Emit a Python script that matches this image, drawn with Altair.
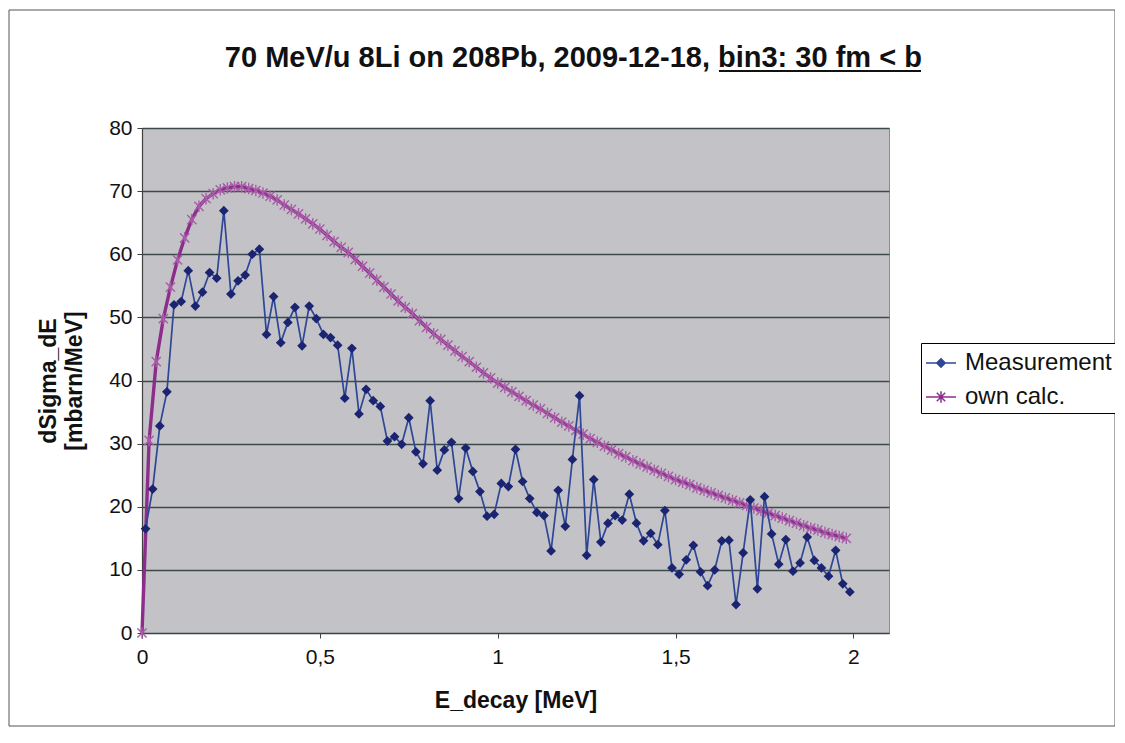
import pandas as pd
import altair as alt

# E_decay bin centres of the measurement (MeV)
meas_E = [0.01, 0.03, 0.05, 0.07, 0.09, 0.11, 0.13, 0.15, 0.17, 0.19,
          0.21, 0.23, 0.25, 0.27, 0.29, 0.31, 0.33, 0.35, 0.37, 0.39,
          0.41, 0.43, 0.45, 0.47, 0.49, 0.51, 0.53, 0.55, 0.57, 0.59,
          0.61, 0.63, 0.65, 0.67, 0.69, 0.71, 0.73, 0.75, 0.77, 0.79,
          0.81, 0.83, 0.85, 0.87, 0.89, 0.91, 0.93, 0.95, 0.97, 0.99,
          1.01, 1.03, 1.05, 1.07, 1.09, 1.11, 1.13, 1.15, 1.17, 1.19,
          1.21, 1.23, 1.25, 1.27, 1.29, 1.31, 1.33, 1.35, 1.37, 1.39,
          1.41, 1.43, 1.45, 1.47, 1.49, 1.51, 1.53, 1.55, 1.57, 1.59,
          1.61, 1.63, 1.65, 1.67, 1.69, 1.71, 1.73, 1.75, 1.77, 1.79,
          1.81, 1.83, 1.85, 1.87, 1.89, 1.91, 1.93, 1.95, 1.97, 1.99]
meas_vals = [16.5, 22.8, 32.8, 38.2, 52.0, 52.5, 57.4, 51.8, 54.0, 57.1,
             56.2, 66.9, 53.7, 55.8, 56.7, 60.0, 60.8, 47.3, 53.3, 46.0,
             49.2, 51.6, 45.5, 51.8, 49.8, 47.3, 46.8, 45.6, 37.2, 45.1,
             34.7, 38.6, 36.8, 35.9, 30.4, 31.1, 29.9, 34.1, 28.7, 26.8,
             36.8, 25.8, 29.0, 30.2, 21.3, 29.3, 25.6, 22.4, 18.5, 18.8,
             23.7, 23.2, 29.1, 24.0, 21.3, 19.1, 18.6, 13.0, 22.6, 16.9,
             27.5, 37.6, 12.3, 24.3, 14.4, 17.4, 18.6, 17.9, 22.0, 17.4,
             14.6, 15.8, 14.0, 19.4, 10.3, 9.3, 11.6, 13.9, 9.7, 7.5,
             10.0, 14.6, 14.7, 4.5, 12.7, 21.1, 7.0, 21.6, 15.7, 10.9,
             14.8, 9.8, 11.1, 15.2, 11.5, 10.3, 9.0, 13.1, 7.8, 6.5]

# own calculation
calc_E = [0.00, 0.02, 0.04, 0.06, 0.08, 0.10, 0.12, 0.14, 0.16, 0.18,
          0.20, 0.22, 0.24, 0.26, 0.28, 0.30, 0.32, 0.34, 0.36, 0.38,
          0.40, 0.42, 0.44, 0.46, 0.48, 0.50, 0.52, 0.54, 0.56, 0.58,
          0.60, 0.62, 0.64, 0.66, 0.68, 0.70, 0.72, 0.74, 0.76, 0.78,
          0.80, 0.82, 0.84, 0.86, 0.88, 0.90, 0.92, 0.94, 0.96, 0.98,
          1.00, 1.02, 1.04, 1.06, 1.08, 1.10, 1.12, 1.14, 1.16, 1.18,
          1.20, 1.22, 1.24, 1.26, 1.28, 1.30, 1.32, 1.34, 1.36, 1.38,
          1.40, 1.42, 1.44, 1.46, 1.48, 1.50, 1.52, 1.54, 1.56, 1.58,
          1.60, 1.62, 1.64, 1.66, 1.68, 1.70, 1.72, 1.74, 1.76, 1.78,
          1.80, 1.82, 1.84, 1.86, 1.88, 1.90, 1.92, 1.94, 1.96, 1.98]
calc_vals = [0.0, 30.5, 43.0, 49.8, 54.8, 59.1, 62.6, 65.5, 67.6, 68.8,
             69.6, 70.2, 70.5, 70.7, 70.7, 70.4, 70.1, 69.7, 69.2, 68.6,
             67.8, 67.1, 66.4, 65.6, 64.8, 64.0, 63.0, 62.0, 61.1, 60.3,
             59.2, 58.1, 57.0, 55.9, 54.8, 53.7, 52.6, 51.6, 50.6, 49.5,
             48.4, 47.4, 46.5, 45.6, 44.7, 43.8, 43.0, 42.1, 41.2, 40.4,
             39.6, 38.9, 38.2, 37.5, 36.8, 36.1, 35.5, 34.8, 34.1, 33.4,
             32.8, 32.1, 31.5, 30.8, 30.2, 29.6, 29.0, 28.4, 27.9, 27.3,
             26.8, 26.3, 25.8, 25.3, 24.8, 24.3, 23.9, 23.5, 23.0, 22.6,
             22.2, 21.8, 21.4, 21.0, 20.6, 20.2, 19.8, 19.4, 19.0, 18.6,
             18.2, 17.8, 17.4, 17.0, 16.6, 16.3, 15.9, 15.6, 15.3, 15.0]

series_names = ["Measurement", "own calc."]
x_ticks = [0, 0.5, 1, 1.5, 2]
y_ticks = [0, 10, 20, 30, 40, 50, 60, 70, 80]
title_main = "70 MeV/u 8Li on 208Pb, 2009-12-18,"
title_under = "bin3: 30 fm < b"

FONT = "Liberation Sans"
NAVY = "#1B2470"
NAVY_LINE = "#2E4696"
PURPLE = "#8E2C8C"
PURPLE_STAR = "#A85CA8"

STAR = "M-1,-1L1,1M-1,1L1,-1M0,-1.25L0,1.25"
# legend symbols: a line segment with the series marker on it
LEG_MEAS = "M-1,0L1,0M0,-0.28L0.28,0L0,0.28L-0.28,0Z M0,-0.14L0.14,0L0,0.14L-0.14,0Z"
LEG_CALC = "M-1,0L1,0M-0.28,-0.28L0.28,0.28M-0.28,0.28L0.28,-0.28M0,-0.38L0,0.38"

meas_df = pd.DataFrame({"E": meas_E, "v": meas_vals, "series": series_names[0]})
calc_df = pd.DataFrame({"E": calc_E, "v": calc_vals, "series": series_names[1]})
leg_df = pd.DataFrame({"series": series_names})

x_enc = alt.X("E:Q", scale=alt.Scale(domain=[0, 2.1], nice=False),
              axis=alt.Axis(values=x_ticks, title="E_decay [MeV]",
                            labelExpr="replace(toString(datum.value), '.', ',')",
                            labelFlush=False, grid=False, labelPadding=8, titlePadding=22))
y_enc = alt.Y("v:Q", scale=alt.Scale(domain=[0, 80], nice=False),
              axis=alt.Axis(values=y_ticks, title=["dSigma_dE", "[mbarn/MeV]"],
                            grid=True, labelPadding=5, titlePadding=22,
                            titleLineHeight=26))

legend = alt.Legend(
    title=None, orient="none", legendX=779, legendY=215,
    strokeColor="#000000", fillColor="#ffffff", padding=4,
    labelFont=FONT, labelFontSize=24, labelColor="#111111", labelLimit=300,
    symbolSize=900, rowPadding=6, labelOffset=8,
)

line_color = alt.Color("series:N",
                       scale=alt.Scale(domain=series_names, range=[NAVY_LINE, PURPLE]),
                       legend=legend)

calc_line = alt.Chart(calc_df).mark_line(strokeWidth=3.4).encode(x=x_enc, y=y_enc, color=line_color)
calc_pts = alt.Chart(calc_df).mark_point(shape=STAR, filled=False, size=85,
                                         strokeWidth=1.4, color=PURPLE_STAR, opacity=1
                                         ).encode(x="E:Q", y="v:Q")
meas_line = alt.Chart(meas_df).mark_line(strokeWidth=1.7).encode(x=x_enc, y=y_enc, color=line_color)
meas_pts = alt.Chart(meas_df).mark_point(shape="diamond", filled=True, size=95,
                                         color=NAVY, opacity=1).encode(x="E:Q", y="v:Q")

# clipped, off-canvas points: they only give the legend its marker shapes
leg_pts = alt.Chart(leg_df).mark_point(filled=False, clip=True, strokeWidth=2.4, opacity=1).encode(
    x=alt.value(-2000), y=alt.value(-2000),
    color=line_color,
    shape=alt.Shape("series:N", scale=alt.Scale(domain=series_names, range=[LEG_MEAS, LEG_CALC]),
                    legend=legend),
)

# title in two parts, the second one underlined
one = pd.DataFrame({"k": [0]})
t1 = alt.Chart(one).mark_text(text=title_main, font=FONT, fontSize=29, fontWeight="bold",
                              align="right", baseline="alphabetic", color="#111111"
                              ).encode(x=alt.value(568), y=alt.value(-61))
t2 = alt.Chart(one).mark_text(text=title_under, font=FONT, fontSize=29, fontWeight="bold",
                              align="left", baseline="alphabetic", color="#111111"
                              ).encode(x=alt.value(576), y=alt.value(-61))
under = alt.Chart(one).mark_rule(strokeWidth=2.2, color="#111111").encode(
    x=alt.value(577), x2=alt.value(779), y=alt.value(-57))
frame = alt.Chart(one).mark_rect(fill=None, stroke="#555555", strokeWidth=1).encode(
    x=alt.value(-133), x2=alt.value(973), y=alt.value(-118), y2=alt.value(598))

chart = alt.layer(frame, calc_line, calc_pts, meas_line, meas_pts, leg_pts, t1, t2, under).properties(
    width=747, height=505, autosize="none",
    padding={"left": 134, "top": 120, "right": 226, "bottom": 100},
    background="#ffffff",
).configure_view(
    fill="#C3C3C7", stroke="#8a8a8a", strokeWidth=1
).configure_axis(
    labelFont=FONT, labelFontSize=21, labelColor="#111111",
    titleFont=FONT, titleFontSize=23, titleFontWeight="bold", titleColor="#111111",
    domainColor="#404040", domainWidth=1.2, tickColor="#404040", tickSize=5,
    gridColor="#3D4A4A", gridWidth=1.4, gridOpacity=1,
)

chart.save("out.html", embed_options={"renderer": "svg", "actions": False})
